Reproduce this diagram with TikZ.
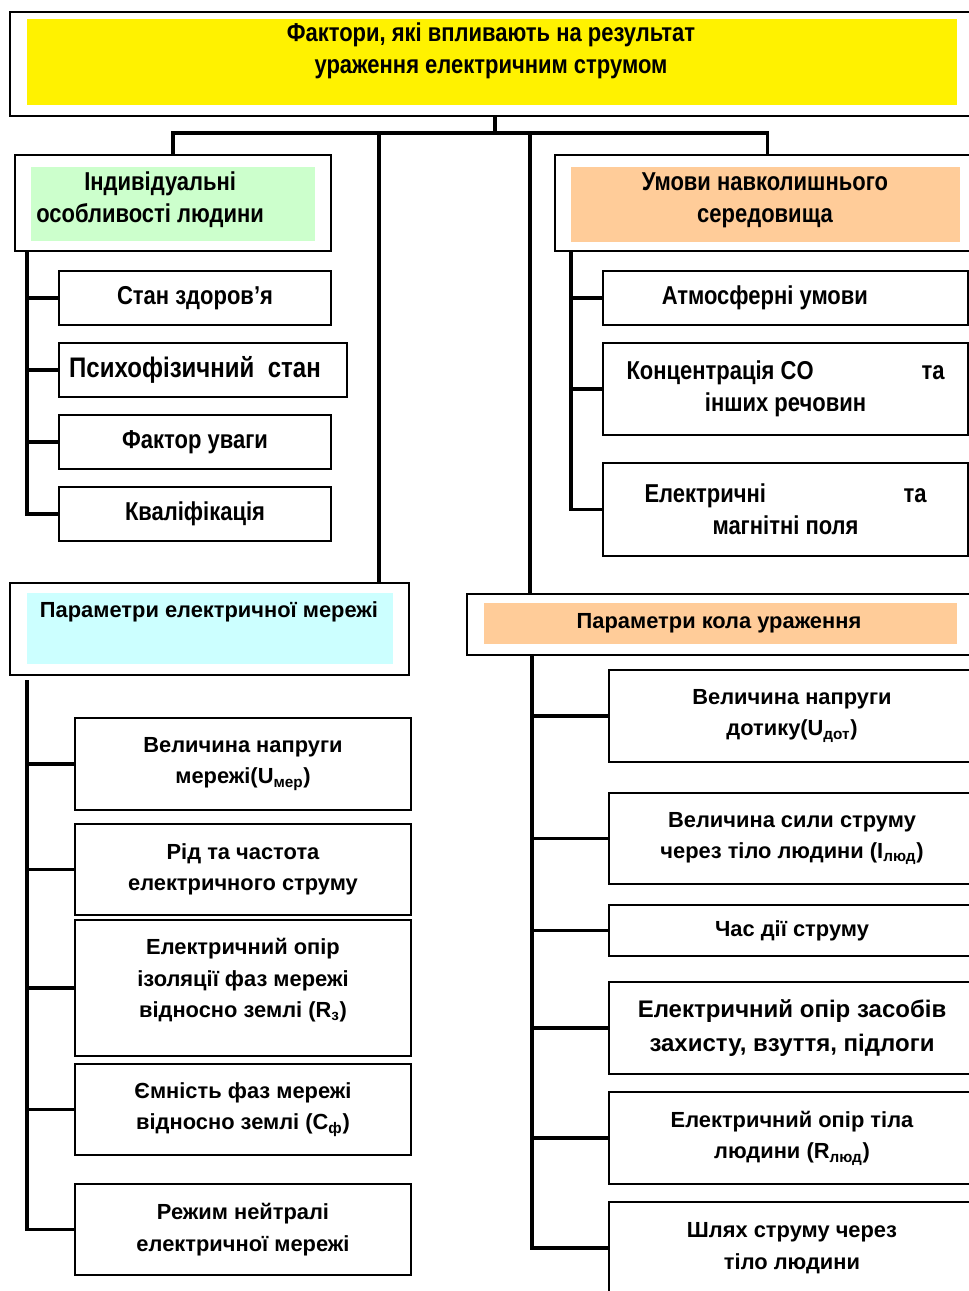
\documentclass[tikz,border=0pt]{standalone}
\usepackage{fontspec}
\setmainfont{Liberation Sans}
\newfontfamily\narrowfont{Liberation Sans}[FakeStretch=0.85]
\definecolor{grn}{HTML}{CCFFCC}
\definecolor{org}{HTML}{FFCC99}
\definecolor{cyn}{HTML}{CCFFFF}
\tikzset{
  sz/.style 2 args={minimum width=#1*0.75pt, minimum height=#2*0.75pt},
  outerbox/.style={draw, line width=1.1pt, fill=white, inner sep=0pt},
  filler/.style={inner sep=0pt},
  itembox/.style={draw, line width=1.1pt, fill=white, align=center, inner sep=0pt},
  narrowhead/.style={font=\narrowfont\bfseries\fontsize{19.4}{24}\selectfont, align=center, inner sep=0pt},
  widehead/.style={font=\bfseries\fontsize{16.4}{24}\selectfont, align=center, inner sep=0pt},
  narrowitem/.style={itembox, font=\narrowfont\bfseries\fontsize{19.4}{24}\selectfont},
  wideitem/.style={itembox, font=\bfseries\fontsize{16.4}{23.5}\selectfont},
  conn/.style={line width=2.8pt}
}
\begin{document}
\begin{tikzpicture}[x=0.75pt,y=-0.75pt]
\useasboundingbox (0,0) rectangle (969,1291);

% головний блок
\node[outerbox, sz={970}{104}] (top) at (495,64) {};
\node[filler, fill=yellow, sz={930}{86}] (topfill) at (492,62) {};
\node[narrowhead] (toptext) at (491,51) {Фактори, які впливають на результат\\ураження електричним струмом};

% групи
\node[outerbox, sz={316}{96}] (indiv) at (173,203) {};
\node[filler, fill=grn, sz={284}{74}] (indivfill) at (173,204) {};
\node[narrowhead, align=left, anchor=west] (indivtext) at (36,200) {\hspace*{36pt}Індивідуальні\\особливості людини};

\node[outerbox, sz={425}{96}] (env) at (767.5,203) {};
\node[filler, fill=org, sz={389}{75}] (envfill) at (765.5,204.5) {};
\node[narrowhead] (envtext) at (765,200) {Умови навколишнього\\середовища};

\node[outerbox, sz={399}{92}] (mereg) at (209.5,629) {};
\node[filler, fill=cyn, sz={366}{71}] (meregfill) at (210,628.5) {};
\node[widehead] (meregtext) at (209,612) {Параметри електричної мережі};

\node[outerbox, sz={513}{61}] (kolo) at (723.5,624.5) {};
\node[filler, fill=org, sz={473}{41}] (kolofill) at (720.5,623.5) {};
\node[widehead] (kolotext) at (719,623) {Параметри кола ураження};

% особливості людини
\node[narrowitem, sz={272}{54}] (stan) at (195,298) {Стан здоров’я};
\node[narrowitem, sz={288}{54}, font=\narrowfont\bfseries\fontsize{21.2}{24}\selectfont] (psych) at (203,370) {Психофізичний\ \ стан\hspace*{12pt}};
\node[narrowitem, sz={272}{54}] (uvaha) at (195,442) {Фактор уваги};
\node[narrowitem, sz={272}{54}] (kval) at (195,514) {Кваліфікація};

% навколишнє середовище
\node[narrowitem, sz={365}{54}] (atm) at (785.5,298) {Атмосферні умови\hspace*{31pt}};
\node[narrowitem, sz={365}{92}] (conc) at (785.5,389) {\makebox[238.5pt]{Концентрація CO\hfill та}\\інших речовин};
\node[narrowitem, sz={365}{93}] (elmag) at (785.5,509.5) {\makebox[211.5pt]{Електричні\hfill та}\\магнітні поля};

% параметри мережі
\node[wideitem, sz={336}{92}] (umer) at (243,764) {Величина напруги\\мережі(U\textsubscript{мер})};
\node[wideitem, sz={336}{91}] (rid) at (243,869.5) {Рід та частота\\електричного струму};
\node[wideitem, sz={336}{136}] (opir) at (243,988) {Електричний опір\\ізоляції фаз мережі\\відносно землі (R\textsubscript{з})\\[-8.5pt]\mbox{}};
\node[wideitem, sz={336}{91}] (emn) at (243,1109.5) {Ємність фаз мережі\\відносно землі (C\textsubscript{ф})};
\node[wideitem, sz={336}{91}] (rezh) at (243,1229.5) {Режим нейтралі\\електричної мережі};

% параметри кола
\node[wideitem, sz={366}{92}] (udot) at (792,716) {Величина напруги\\дотику(U\textsubscript{дот})};
\node[wideitem, sz={366}{91}] (ilud) at (792,838.5) {Величина сили струму\\через тіло людини (I\textsubscript{люд})};
\node[wideitem, sz={366}{51}] (chas) at (792,930.5) {Час дії струму};
\node[wideitem, sz={366}{92}, font=\bfseries\fontsize{18}{26}\selectfont] (zasob) at (792,1028) {Електричний опір засобів\\захисту, взуття, підлоги};
\node[wideitem, sz={366}{92}] (rlud) at (792,1138) {Електричний опір тіла\\людини (R\textsubscript{люд})};
\node[wideitem, sz={366}{92}] (shl) at (792,1248) {Шлях струму через\\тіло людини};

% з'єднання від головного блоку
\coordinate (bar) at (495,133);
\coordinate (d3) at (379,133);
\coordinate (d4) at (530,133);
\draw[conn] (top.south) -- (bar);
\draw[conn] (indiv.north) |- (bar) -| (env.north);
\draw[conn] (d3) -- (d3 |- mereg.north);
\draw[conn] (d4) -- (d4 |- kolo.north);

% лівий верхній стовбур
\coordinate (s1) at (27,251);
\draw[conn] (s1) |- (kval.west);
\draw[conn] (s1 |- stan.west) -- (stan.west);
\draw[conn] (s1 |- psych.west) -- (psych.west);
\draw[conn] (s1 |- uvaha.west) -- (uvaha.west);

% правий верхній стовбур
\coordinate (s2) at (571,251);
\draw[conn] (s2) |- (elmag.west);
\draw[conn] (s2 |- atm.west) -- (atm.west);
\draw[conn] (s2 |- conc.west) -- (conc.west);

% лівий нижній стовбур
\coordinate (s3) at (27,680);
\draw[conn] (s3) |- (rezh.west);
\draw[conn] (s3 |- umer.west) -- (umer.west);
\draw[conn] (s3 |- rid.west) -- (rid.west);
\draw[conn] (s3 |- opir.west) -- (opir.west);
\draw[conn] (s3 |- emn.west) -- (emn.west);

% правий нижній стовбур
\coordinate (s4) at (532,655);
\draw[conn] (s4) |- (shl.west);
\draw[conn] (s4 |- udot.west) -- (udot.west);
\draw[conn] (s4 |- ilud.west) -- (ilud.west);
\draw[conn] (s4 |- chas.west) -- (chas.west);
\draw[conn] (s4 |- zasob.west) -- (zasob.west);
\draw[conn] (s4 |- rlud.west) -- (rlud.west);

\end{tikzpicture}
\end{document}
